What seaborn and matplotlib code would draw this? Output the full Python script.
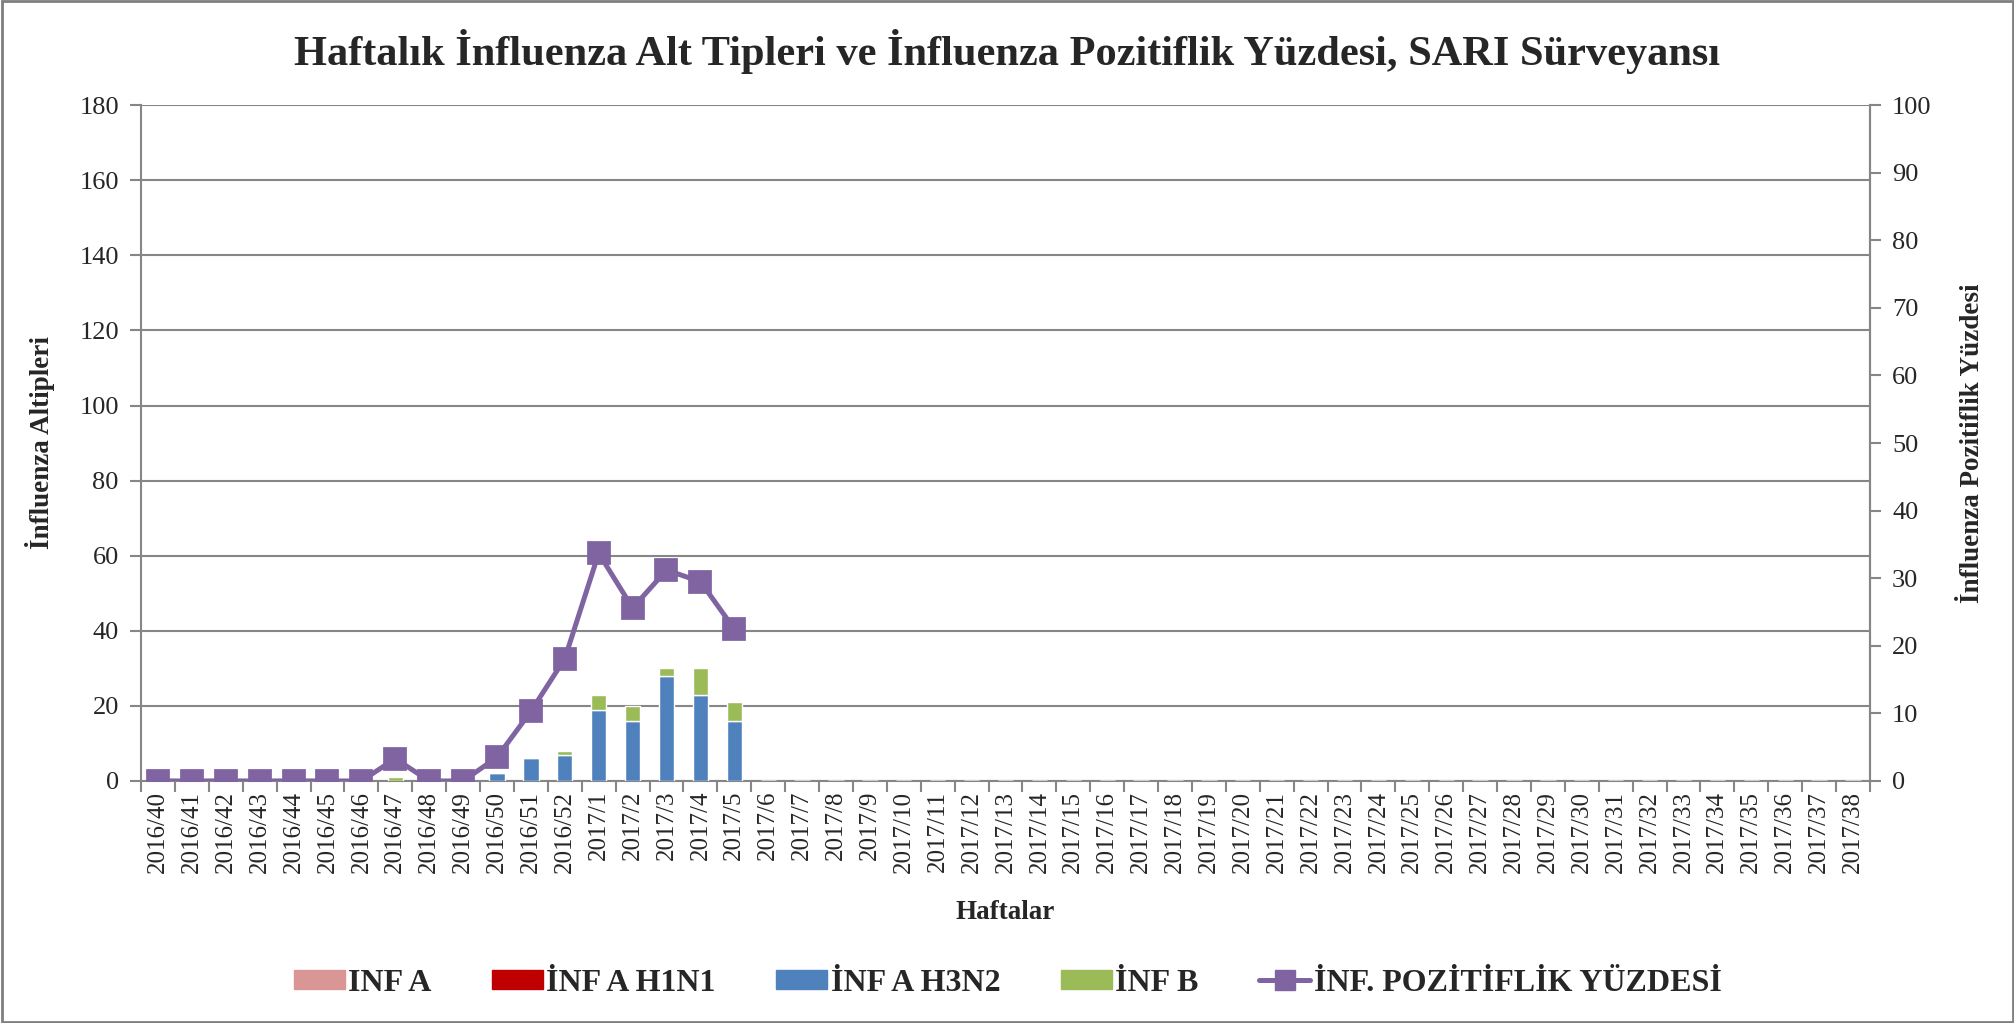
import numpy as np
import pandas as pd
import matplotlib
matplotlib.use("Agg")
import matplotlib.pyplot as plt
import seaborn as sns
from matplotlib.patches import Rectangle
from matplotlib.lines import Line2D
from matplotlib.patches import Patch

# weeks 2016/40 .. 2016/52, 2017/1 .. 2017/38
weeks = ["2016/%d" % w for w in range(40, 53)] + ["2017/%d" % w for w in range(1, 39)]
n = len(weeks)

inf_a = [0] * n
inf_a_h1n1 = [0] * n
inf_a_h3n2 = [0, 0, 0, 0, 0, 0, 0, 0, 0, 0, 2, 6, 7, 19, 16, 28, 23, 16] + [0] * (n - 18)
inf_b = [0, 0, 0, 0, 0, 0, 0, 1, 0, 0, 0, 0, 1, 4, 4, 2, 7, 5] + [0] * (n - 18)
pozitiflik = [0, 0, 0, 0, 0, 0, 0, 3.3, 0, 0, 3.5, 10.3, 18.1, 33.7, 25.6, 31.2, 29.5, 22.5] + [np.nan] * (n - 18)

df = pd.DataFrame({"hafta": weeks, "a": inf_a, "h1n1": inf_a_h1n1,
                   "h3n2": inf_a_h3n2, "b": inf_b, "poz": pozitiflik})

sns.set_style("white")
plt.rcParams["font.family"] = ["Liberation Serif", "DejaVu Serif"]

col_a = "#D99694"
col_h1 = "#C00000"
col_h3 = "#4F81BD"
col_b = "#9BBB59"
col_line = "#8064A2"
grid_col = "#868686"

fig = plt.figure(figsize=(20.15, 10.23), dpi=100)
ax = fig.add_axes([0.070, 0.2366, 0.858, 0.6606])

# stacked bars: INF A, H1N1, H3N2, B
bottom = np.zeros(n)
for key, c in [("a", col_a), ("h1n1", col_h1), ("h3n2", col_h3), ("b", col_b)]:
    sns.barplot(data=df, x="hafta", y=key, color=c, bottom=bottom, width=0.45,
                order=weeks, saturation=1, ax=ax, zorder=3)
    bottom = bottom + df[key].to_numpy()

ax.set_ylim(0, 180)
ax.set_xlim(-0.5, n - 0.5)
ax.set_yticks(range(0, 181, 20))
ax.yaxis.grid(True, color=grid_col, linewidth=1.5, zorder=0)
ax.set_axisbelow(True)
ax.tick_params(axis="y", labelsize=19, length=8, width=1.5, color=grid_col, direction="out", left=True, pad=8)
ax.set_xticks(range(n))
ax.set_xticklabels(weeks, rotation=90, fontsize=18)
ax.tick_params(axis="x", which="major", length=0, pad=7)
ax.set_xticks(np.arange(-0.5, n, 1), minor=True)
ax.tick_params(axis="x", which="minor", length=8, width=1.5, color=grid_col, direction="out", bottom=True)
for s in ["left", "bottom", "right"]:
    ax.spines[s].set_color(grid_col)
    ax.spines[s].set_linewidth(1.5)
ax.spines["top"].set_visible(False)

ax.set_xlabel("Haftalar", fontsize=19.5, fontweight="bold")
ax.xaxis.set_label_coords(0.5, -0.176)
ax.set_ylabel("İnfluenza Altipleri", fontsize=19.5, fontweight="bold")
ax.yaxis.set_label_coords(-0.05, 0.5)

ax2 = ax.twinx()
sns.pointplot(data=df, x="hafta", y="poz", order=weeks, color=col_line, markers="s",
              markersize=15, linewidth=3.6, ax=ax2, zorder=5)
ax2.set_xlim(-0.5, n - 0.5)
ax2.set_ylim(0, 100)
ax2.set_yticks(range(0, 101, 10))
ax2.tick_params(axis="y", labelsize=19, length=8, width=1.5, color=grid_col, direction="out", right=True, pad=8)
ax2.set_ylabel("İnfluenza Pozitiflik Yüzdesi", fontsize=19.5, fontweight="bold", rotation=90)
ax2.yaxis.set_label_coords(1.052, 0.5)
for s in ["left", "bottom", "top"]:
    ax2.spines[s].set_visible(False)
ax2.spines["right"].set_color(grid_col)
ax2.spines["right"].set_linewidth(1.5)
ax2.set_xlabel("")
ax2.grid(False)

fig.suptitle("Haftalık İnfluenza Alt Tipleri ve İnfluenza Pozitiflik Yüzdesi, SARI Sürveyansı",
             fontsize=30.5, fontweight="bold", y=0.95, va="center")

handles = [Patch(color=col_a), Patch(color=col_h1), Patch(color=col_h3), Patch(color=col_b),
           Line2D([], [], color=col_line, marker="s", markersize=15, linewidth=3.6)]
labels = ["INF A", "İNF A H1N1", "İNF A H3N2", "İNF B", "İNF. POZİTİFLİK YÜZDESİ"]
fig.legend(handles, labels, loc="center", bbox_to_anchor=(0.5, 0.039), ncol=5, frameon=False,
           prop={"size": 23, "weight": "bold"}, handlelength=1.6, handleheight=0.55,
           handletextpad=0.1, columnspacing=1.9)

fig.patches.append(Rectangle((0.001, 0.001), 0.998, 0.998, transform=fig.transFigure,
                             fill=False, edgecolor="#7f7f7f", linewidth=2))

fig.savefig("out.png", dpi=100)
